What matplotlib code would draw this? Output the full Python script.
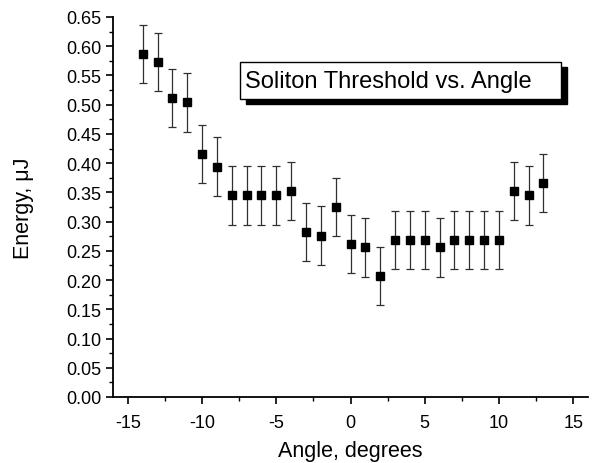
import matplotlib
matplotlib.use('Agg')
import matplotlib.pyplot as plt
from matplotlib.patches import Rectangle
from matplotlib.ticker import MultipleLocator, FormatStrFormatter

plt.rcParams['font.family'] = ['Liberation Sans', 'DejaVu Sans']
plt.rcParams['axes.unicode_minus'] = False

# angle in degrees, soliton threshold energy in uJ
angle = [-14, -13, -12, -11, -10, -9, -8, -7, -6, -5, -4, -3, -2, -1,
         0, 1, 2, 3, 4, 5, 6, 7, 8, 9, 10, 11, 12, 13]
energy = [0.587, 0.573, 0.511, 0.504, 0.416, 0.394, 0.345, 0.345, 0.345, 0.345,
          0.352, 0.282, 0.276, 0.325, 0.262, 0.256, 0.207, 0.269, 0.269, 0.269,
          0.256, 0.269, 0.269, 0.269, 0.269, 0.352, 0.345, 0.366]
error = [0.05] * len(angle)

W, H = 597, 464
fig = plt.figure(figsize=(W / 100, H / 100), dpi=100)
ax = fig.add_axes([113 / W, 1 - 398 / H, (588 - 113) / W, (398 - 18) / H])

ax.errorbar(angle, energy, yerr=error, fmt='s', color='black', ms=6,
            ecolor='#303030', elinewidth=0.9, capsize=2.6, capthick=0.9)

ax.set_xlim(-16, 16)
ax.set_ylim(0, 0.65)
ax.xaxis.set_major_locator(MultipleLocator(5))
ax.xaxis.set_minor_locator(MultipleLocator(2.5))
ax.yaxis.set_major_locator(MultipleLocator(0.05))
ax.yaxis.set_minor_locator(MultipleLocator(0.025))
ax.yaxis.set_major_formatter(FormatStrFormatter('%.2f'))
ax.tick_params(which='major', direction='out', length=5, width=1.2, labelsize=13)
ax.tick_params(axis='x', which='major', pad=7)
ax.tick_params(which='minor', direction='out', length=3, width=1.0)
ax.spines['top'].set_visible(False)
ax.spines['right'].set_visible(False)
ax.spines['left'].set_linewidth(1.3)
ax.spines['bottom'].set_linewidth(1.3)

ax.set_xlabel('Angle, degrees', fontsize=15.5, labelpad=7)
ax.set_ylabel('Energy, μJ', fontsize=15.5, labelpad=23)

# title box with drop shadow
tf = fig.transFigure
fig.patches.append(Rectangle((246 / W, 1 - 105 / H), 321 / W, 37 / H,
                             transform=tf, facecolor='black', edgecolor='black'))
fig.patches.append(Rectangle((240 / W, 1 - 100 / H), 321 / W, 37 / H,
                             transform=tf, facecolor='white', edgecolor='black', lw=1))
fig.text(245 / W, 1 - 82 / H, 'Soliton Threshold vs. Angle', fontsize=17,
         ha='left', va='center')

fig.savefig('out.png', dpi=100)
